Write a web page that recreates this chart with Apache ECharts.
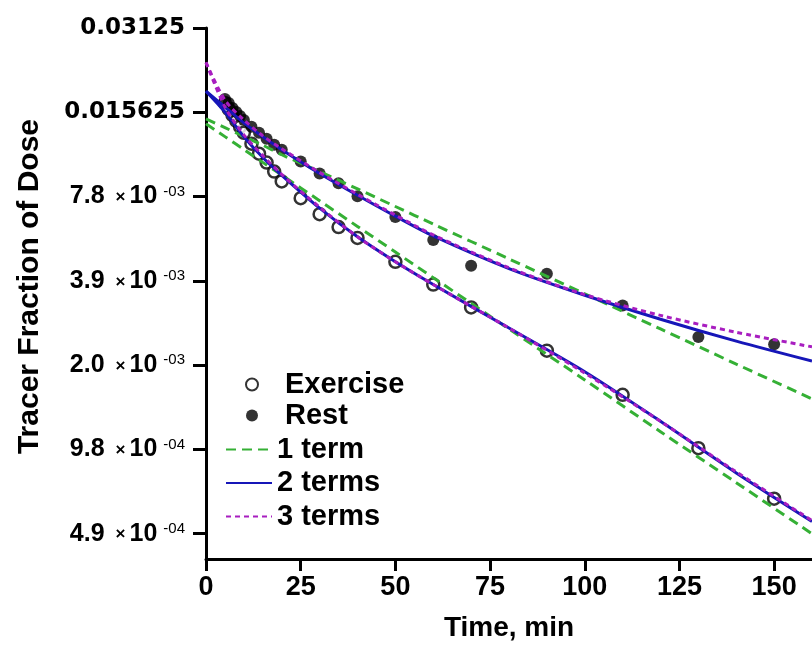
<!DOCTYPE html>
<html>
<head>
<meta charset="utf-8">
<script src="https://cdn.jsdelivr.net/npm/echarts@6/dist/echarts.min.js"></script>
<style>
  html, body { margin: 0; padding: 0; background: #ffffff; }
  #chart { width: 812px; height: 647px; }
</style>
</head>
<body>
<div id="chart"></div>
<script>
// Sampling times (min) of the measured tracer fractions
const sampleTimes = [5, 6, 7, 8, 9, 10, 12, 14, 16, 18, 20, 25, 30, 35, 40, 50, 60, 70, 90, 110, 130, 150];
const exerciseValues = [0.01686, 0.01605, 0.01528, 0.01456, 0.01386, 0.01320, 0.01207, 0.01112, 0.01033, 0.00960, 0.00885,
  0.00771, 0.00676, 0.00608, 0.00556, 0.00457, 0.00379, 0.00314, 0.00220, 0.00153, 0.000987, 0.000651];
const restValues = [0.01742, 0.01686, 0.01618, 0.01566, 0.01516, 0.01467, 0.01386, 0.01320, 0.01257, 0.01197, 0.01149,
  0.01042, 0.00945, 0.00871, 0.00783, 0.00660, 0.00547, 0.00442, 0.00414, 0.00319, 0.00246, 0.00232];

// Fitted exponential models evaluated on a common time grid (min)
const fitTimes = [0, 5, 10, 15, 20, 30, 40, 50, 60, 80, 100, 120, 140, 160];
const exercise1Term = [0.01421, 0.01279, 0.01151, 0.01035, 0.00932, 0.00755, 0.00611, 0.00495, 0.00401, 0.00263, 0.00173, 0.00113, 0.000743, 0.000488];
const rest1Term = [0.01479, 0.01377, 0.01281, 0.01192, 0.01102, 0.00960, 0.00832, 0.00720, 0.00623, 0.00468, 0.00351, 0.00263, 0.00197, 0.00148];
const exercise2Terms = [0.01859, 0.01566, 0.01278, 0.01077, 0.00930, 0.00710, 0.00561, 0.00457, 0.00379, 0.00265, 0.00185, 0.00123, 0.000805, 0.000540];
const rest2Terms = [0.01859, 0.01632, 0.01432, 0.01278, 0.01149, 0.00945, 0.00790, 0.00665, 0.00565, 0.00432, 0.00347, 0.00285, 0.00238, 0.00202];
const exercise3Terms = [0.02355, 0.01632, 0.01298, 0.01094, 0.00937, 0.00716, 0.00561, 0.00457, 0.00379, 0.00265, 0.00183, 0.00123, 0.000812, 0.000544];
const rest3Terms = [0.02355, 0.01728, 0.01467, 0.01288, 0.01158, 0.00953, 0.00796, 0.00671, 0.00570, 0.00435, 0.00349, 0.00294, 0.00256, 0.00227];

// Log2 axis ticks and their printed labels ("^" marks the exponent part)
const yTickValues = [0.03125, 0.015625, 0.0078125, 0.00390625, 0.001953125, 0.0009765625, 0.00048828125];
const yTickLabels = ['0.03125', '0.015625', '7.8×10^-03', '3.9×10^-03', '2.0×10^-03', '9.8×10^-04', '4.9×10^-04'];
const xTickValues = [0, 25, 50, 75, 100, 125, 150];

const SANS = '"Liberation Sans", Arial, Helvetica, sans-serif';
const WIDE = '"DejaVu Sans", Verdana, sans-serif';
const GREEN = '#35b035';
const BLUE = '#1616b8';
const PURPLE = '#a81ec0';

function pairs(xs, ys) { return xs.map((x, i) => [x, ys[i]]); }

function yLabel(value) {
  const i = yTickValues.findIndex(v => Math.abs(v - value) / v < 1e-6);
  if (i < 0) return '';
  const s = yTickLabels[i];
  if (s.indexOf('^') < 0) return '{d|' + s + '}';
  const [base, exp] = s.split('^');
  const [mant, ten] = base.split('×');
  return '{m|' + mant + '}{x|×}{m|' + ten + '}{e|' + exp + '}';
}

const chart = echarts.init(document.getElementById('chart'), null, { renderer: 'canvas' });

const lineSeries = (name, xs, ys, color, dash, z) => ({
  name, type: 'line', data: pairs(xs, ys), symbol: 'none', smooth: 0.3,
  lineStyle: { color, width: 3, type: dash },
  itemStyle: { color },
  z, animation: false
});

chart.setOption({
  animation: false,
  backgroundColor: '#ffffff',
  grid: { left: 206, top: 28, right: -4, bottom: 83, containLabel: false },
  xAxis: {
    type: 'value', min: 0, max: 160, interval: 25,
    name: 'Time, min', nameLocation: 'middle', nameGap: 55,
    nameTextStyle: { fontFamily: SANS, fontWeight: 'bold', fontSize: 28, color: '#000' },
    axisLine: { lineStyle: { color: '#000', width: 3 } },
    axisTick: { show: true, length: 12, lineStyle: { color: '#000', width: 3 }, customValues: xTickValues },
    axisLabel: { fontFamily: SANS, fontWeight: 'bold', fontSize: 27, color: '#000', margin: 15,
      customValues: xTickValues },
    splitLine: { show: false }
  },
  yAxis: {
    type: 'log', logBase: 2,
    min: Math.pow(2, -11.3), max: 0.03125,
    name: 'Tracer Fraction of Dose', nameLocation: 'middle', nameGap: 161, nameRotate: 90,
    nameTextStyle: { fontFamily: SANS, fontWeight: 'bold', fontSize: 30, color: '#000', padding: [0, 0, 0, 14] },
    axisLine: { lineStyle: { color: '#000', width: 3 } },
    axisTick: { show: true, length: 13, lineStyle: { color: '#000', width: 3 }, customValues: yTickValues },
    axisLabel: {
      customValues: yTickValues,
      margin: 21,
      formatter: yLabel,
      rich: {
        d: { fontFamily: WIDE, fontWeight: 'bold', fontSize: 23, color: '#000' },
        m: { fontFamily: SANS, fontWeight: 'bold', fontSize: 25, color: '#000' },
        x: { fontFamily: SANS, fontWeight: 'bold', fontSize: 17, color: '#000', padding: [2, 4, 0, 11] },
        e: { fontFamily: SANS, fontSize: 15, color: '#000', verticalAlign: 'top', padding: [0, 0, 0, 6] }
      }
    },
    splitLine: { show: false }
  },
  legend: [
    {
      data: ['Exercise', 'Rest'], orient: 'vertical', left: 245, top: 370, padding: 0,
      itemWidth: 12, itemHeight: 12, itemGap: 2,
      textStyle: { fontFamily: SANS, fontWeight: 'bold', fontSize: 29, color: '#000', padding: [0, 0, 0, 22] }
    },
    {
      data: ['1 term', '2 terms', '3 terms'], orient: 'vertical', left: 225, top: 435, padding: 0,
      itemWidth: 46, itemHeight: 12, itemGap: 4.5,
      itemStyle: { opacity: 0 },
      textStyle: { fontFamily: SANS, fontWeight: 'bold', fontSize: 29, color: '#000' }
    }
  ],
  series: [
    {
      name: 'Exercise', type: 'scatter', data: pairs(sampleTimes, exerciseValues),
      symbol: 'circle', symbolSize: 12,
      itemStyle: { color: '#ffffff', borderColor: '#000000', borderWidth: 2.5 }, z: 2
    },
    {
      name: 'Rest', type: 'scatter', data: pairs(sampleTimes, restValues),
      symbol: 'circle', symbolSize: 12,
      itemStyle: { color: '#000000' }, z: 2
    },
    lineSeries('1 term', fitTimes, exercise1Term, GREEN, [10, 6], 3),
    lineSeries('1 term', fitTimes, rest1Term, GREEN, [10, 6], 3),
    lineSeries('2 terms', fitTimes, exercise2Terms, BLUE, 'solid', 4),
    lineSeries('2 terms', fitTimes, rest2Terms, BLUE, 'solid', 4),
    lineSeries('3 terms', fitTimes, exercise3Terms, PURPLE, [5, 4], 5),
    lineSeries('3 terms', fitTimes, rest3Terms, PURPLE, [5, 4], 5)
  ]
});
</script>
</body>
</html>
